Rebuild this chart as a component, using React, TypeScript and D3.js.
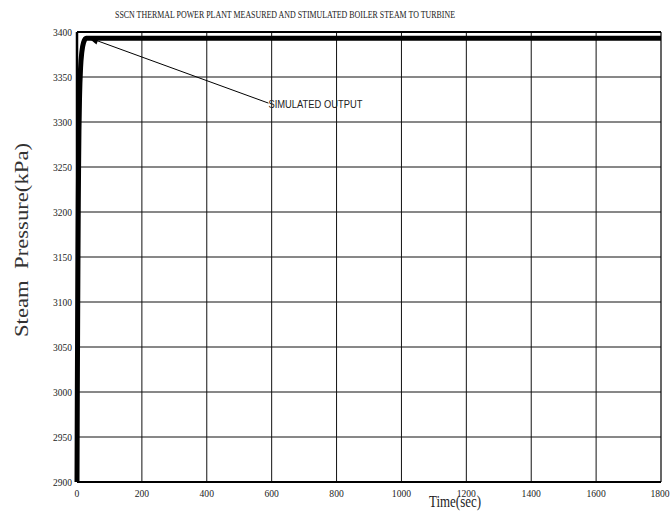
import React from "react";
import * as d3 from "d3";

const title = "SSCN THERMAL POWER PLANT MEASURED AND STIMULATED BOILER STEAM TO TURBINE";
const xLabel = "Time(sec)";
const yLabel = "Steam  Pressure(kPa)";
const xTicks = [0, 200, 400, 600, 800, 1000, 1200, 1400, 1600, 1800];
const yTicks = [2900, 2950, 3000, 3050, 3100, 3150, 3200, 3250, 3300, 3350, 3400];

const timeSec = [0, 1, 2, 3, 4, 5, 6, 8, 11, 15, 20, 28, 40, 100, 300, 600, 900, 1200, 1500, 1800];
const pressure = [2900, 3000, 3080, 3150, 3210, 3255, 3290, 3330, 3360, 3378, 3388, 3393, 3393, 3393, 3393, 3393, 3393, 3393, 3393, 3393];

const annotationText = "SIMULATED OUTPUT";
const annotationTip = { t: 34, v: 3394 };
const annotationAt = { t: 590, v: 3321 };

export default function App() {
  const W = 671, H = 512;
  const left = 77, right = 661, top = 32, bottom = 482;
  const x = d3.scaleLinear().domain([0, 1800]).range([left, right]);
  const y = d3.scaleLinear().domain([2900, 3400]).range([bottom, top]);
  const data = timeSec.map((t, i) => [t, pressure[i]] as [number, number]);
  const line = d3.line<[number, number]>().x(d => x(d[0])).y(d => y(d[1])).curve(d3.curveMonotoneX);

  const tipX = x(annotationTip.t), tipY = y(annotationTip.v);
  const txX = x(annotationAt.t), txY = y(annotationAt.v);
  const ang = Math.atan2(txY - tipY, txX - tipX);
  const ah = 11, aw = 0.35;
  const p1 = [tipX + ah * Math.cos(ang + aw), tipY + ah * Math.sin(ang + aw)];
  const p2 = [tipX + ah * Math.cos(ang - aw), tipY + ah * Math.sin(ang - aw)];

  const serif = "'Liberation Serif', 'DejaVu Serif', serif";
  const sans = "'Liberation Sans', Arial, sans-serif";

  return (
    <svg width={W} height={H} style={{ position: "absolute", left: 0, top: 0, background: "#fff" }}>
      <rect x={0} y={0} width={W} height={H} fill="#fff" />
      {xTicks.slice(1, -1).map(t => (
        <line key={"gx" + t} x1={x(t)} x2={x(t)} y1={top} y2={bottom} stroke="#111" strokeWidth={1} />
      ))}
      {yTicks.slice(1, -1).map(v => (
        <line key={"gy" + v} x1={left} x2={right} y1={y(v)} y2={y(v)} stroke="#111" strokeWidth={1} />
      ))}
      <line x1={left} x2={right} y1={top} y2={top} stroke="#000" strokeWidth={2} />
      <line x1={right} x2={right} y1={top} y2={bottom} stroke="#000" strokeWidth={1.2} />
      <line x1={left} x2={right} y1={bottom} y2={bottom} stroke="#000" strokeWidth={2} />
      <line x1={left} x2={left} y1={top} y2={bottom} stroke="#000" strokeWidth={2.5} />
      <path d={line(data) || ""} fill="none" stroke="#000" strokeWidth={5} strokeLinejoin="round" />
      <line x1={tipX} y1={tipY} x2={txX} y2={txY} stroke="#000" strokeWidth={1} />
      <polygon points={`${tipX},${tipY} ${p1[0]},${p1[1]} ${p2[0]},${p2[1]}`} fill="#000" />
      <text x={txX} y={txY + 5} fontFamily={sans} fontSize={10.5} fill="#222" textLength={94} lengthAdjust="spacingAndGlyphs">
        {annotationText}
      </text>
      {xTicks.map(t => (
        <text key={"tx" + t} x={Math.min(x(t), W - 11)} y={497} textAnchor="middle" fontFamily={serif} fontSize={11}
          textLength={String(t).length * 4.8} lengthAdjust="spacingAndGlyphs" fill="#222">{t}</text>
      ))}
      {yTicks.map(v => (
        <text key={"ty" + v} x={72} y={y(v) + 3.5} textAnchor="end" fontFamily={serif} fontSize={11}
          textLength={19} lengthAdjust="spacingAndGlyphs" fill="#222">{v}</text>
      ))}
      <text x={115} y={18} fontFamily={serif} fontSize={11} textLength={340} lengthAdjust="spacingAndGlyphs" fill="#222">
        {title}
      </text>
      <text x={429} y={507} fontFamily={serif} fontSize={16} textLength={52} lengthAdjust="spacingAndGlyphs" fill="#222">
        {xLabel}
      </text>
      <text transform="translate(28,240) rotate(-90)" textAnchor="middle" fontFamily={serif} fontSize={18}
        textLength={194} lengthAdjust="spacingAndGlyphs" fill="#333" style={{ whiteSpace: "pre" }}>
        {yLabel}
      </text>
    </svg>
  );
}
